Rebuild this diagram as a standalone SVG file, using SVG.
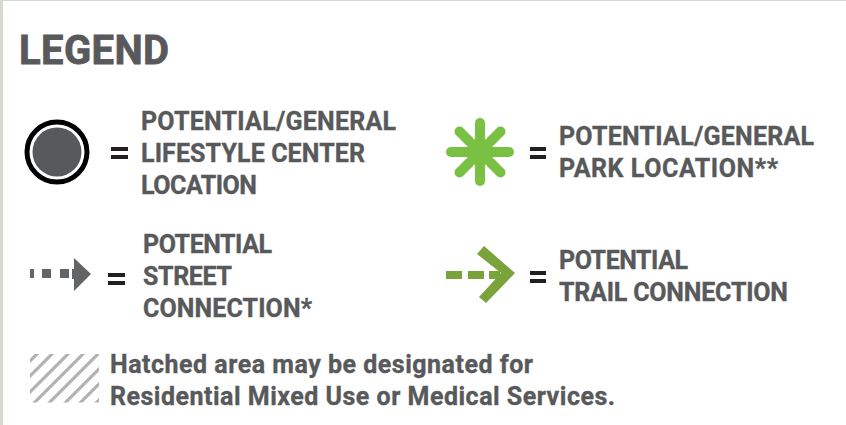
<svg xmlns="http://www.w3.org/2000/svg" width="846" height="425" viewBox="0 0 846 425">
<style>
.t{font-family:"Roboto","Liberation Sans",Arial,sans-serif;font-weight:700;font-size:25px;fill:#58595b;stroke:#58595b;stroke-width:.35}
.h{font-size:40px;stroke-width:.8}
.eq{fill:#231f20}
.hatch{stroke:#b1b3b3;stroke-width:3.2;fill:none}
</style>
<defs><clipPath id="hc"><rect x="30" y="354" width="69" height="48.500"/></clipPath></defs>
<rect width="846" height="425" fill="#fff"/>
<rect width="3" height="425" fill="#d5dad2"/>
<rect width="846" height="1" fill="#d5dad2"/>
<text id="title" class="t h" x="19" y="64" textLength="150">LEGEND</text>
<g id="lifestyle">
<circle cx="57" cy="152" r="30" fill="#fff" stroke="#000" stroke-width="5"/>
<circle cx="57" cy="152" r="24.500" fill="#58595b"/>
<rect class="eq" x="111" y="147" width="17" height="4"/><rect class="eq" x="111" y="155" width="17" height="4"/>
<text class="t" x="141" y="129.500" textLength="255">POTENTIAL/GENERAL</text>
<text class="t" x="141" y="161.500" textLength="224">LIFESTYLE CENTER</text>
<text class="t" x="141" y="193.500" textLength="116">LOCATION</text>
</g>
<g id="park">
<g stroke="#7ac143" stroke-width="10" stroke-linecap="round">
<path d="M480 123V181M451 152H509M459.500 131.500L500.500 172.500M500.500 131.500L459.500 172.500"/>
</g>
<rect class="eq" x="530" y="147" width="16" height="4"/><rect class="eq" x="530" y="155" width="16" height="4"/>
<text class="t" x="559" y="145" textLength="255">POTENTIAL/GENERAL</text>
<text class="t" x="559" y="177" textLength="219">PARK LOCATION**</text>
</g>
<g id="street">
<path d="M30 269h4v9h-4zM42 269h9v9h-9zM60 269h9v9h-9zM74 258L91 274 74 291V279h-2v-10h2z" fill="#636466"/>
<rect class="eq" x="108" y="273" width="17" height="4"/><rect class="eq" x="108" y="281" width="17" height="4"/>
<text class="t" x="143" y="252.500" textLength="129">POTENTIAL</text>
<text class="t" x="143" y="284.500" textLength="89">STREET</text>
<text class="t" x="143" y="316.500" textLength="169">CONNECTION*</text>
</g>
<g id="trail">
<path d="M446 271h16v8h-16zM468 271h16v8h-16zM489 271h11v8h-11z" fill="#7aa33c"/>
<polygon points="484,246 515,273 486,303 479,297 501,273 477,254" fill="#7aa33c"/>
<rect class="eq" x="530" y="271" width="16" height="4"/><rect class="eq" x="530" y="279" width="16" height="4"/>
<text class="t" x="559" y="268.500" textLength="129">POTENTIAL</text>
<text class="t" x="559" y="300.500" textLength="229">TRAIL CONNECTION</text>
</g>
<g id="hatched">
<g class="hatch" clip-path="url(#hc)">
<path d="M41 350L-19 410M56 350L-4 410M72 350L12 410M87 350L27 410M102 350L42 410M118 350L58 410M133 350L73 410M149 350L89 410"/>
</g>
<text class="t" x="110" y="372.500" textLength="423">Hatched area may be designated for</text>
<text class="t" x="110" y="404.500" textLength="505">Residential Mixed Use or Medical Services.</text>
</g>
</svg>
